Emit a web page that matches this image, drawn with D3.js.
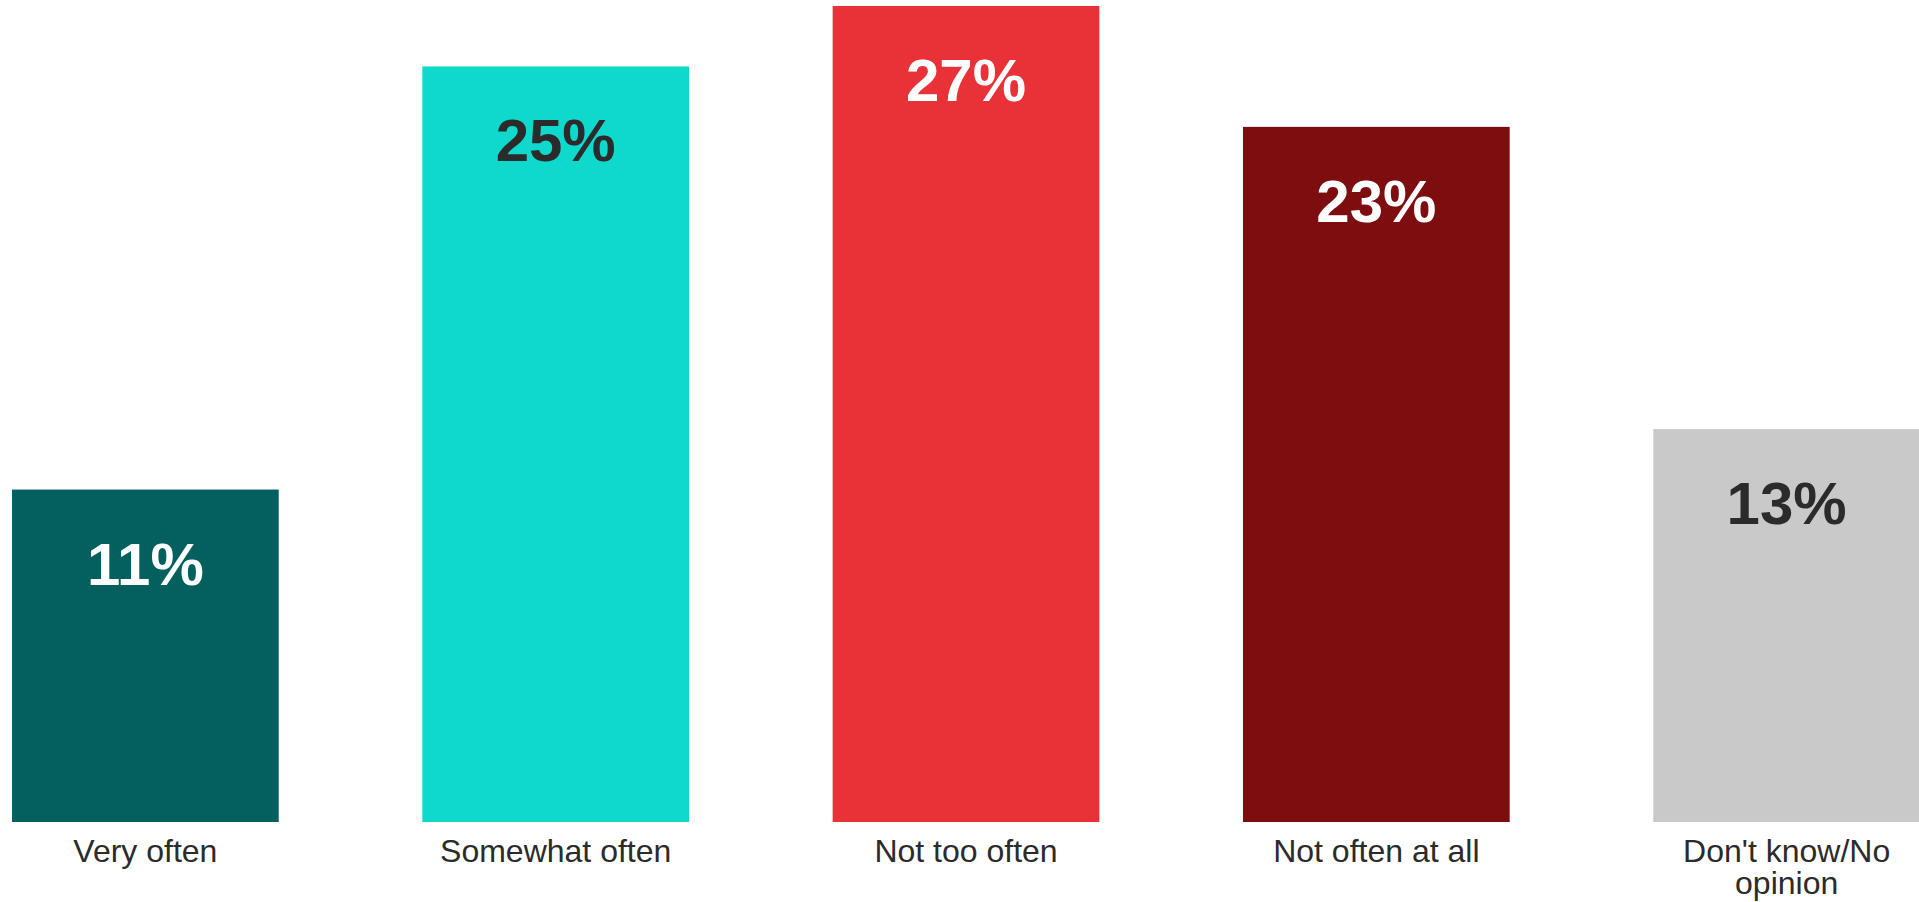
<!DOCTYPE html>
<html>
<head>
<meta charset="utf-8">
<script src="https://cdn.jsdelivr.net/npm/d3@7"></script>
<style>
    body { margin: 0; background: #fff; }
    svg { display: block; font-family: "Liberation Sans", Arial, sans-serif; }
</style>
</head>
<body>
<svg width="1919" height="902"></svg>
<script>
let categories = ["Very often", "Somewhat often", "Not too often", "Not often at all", "Don't know/No opinion"]
let values = [11, 25, 27, 23, 13]
let barColors = ["#03605f", "#0fd8cd", "#e83237", "#7d0d0f", "#c9c9c9"]
let labelColors = ["#ffffff", "#2b2b2b", "#ffffff", "#ffffff", "#2b2b2b"]

function main() {
    var svg = d3.select("svg")

    var x = d3.scaleBand()
        .domain(categories)
        .range([12, 1920])
        .paddingInner(0.35)
        .paddingOuter(0)

    var y = d3.scaleLinear()
        .domain([0, 27])
        .range([822, 6])

    var data = categories.map(function(c, i) {
        return {cat: c, value: values[i], i: i}
    })

    svg.selectAll('rect.bar')
        .data(data)
        .enter().append('rect')
        .attr('class', 'bar')
        .attr('x', d => x(d.cat))
        .attr('y', d => y(d.value))
        .attr('width', x.bandwidth())
        .attr('height', d => y(0) - y(d.value))
        .attr('fill', d => barColors[d.i])

    // value labels inside the bars
    svg.selectAll('text.value')
        .data(data)
        .enter().append('text')
        .attr('class', 'value')
        .attr('x', d => x(d.cat) + x.bandwidth() / 2)
        .attr('y', d => y(d.value) + 95)
        .attr('text-anchor', 'middle')
        .style('font-size', '60px')
        .style('font-weight', 'bold')
        .attr('fill', d => labelColors[d.i])
        .text(d => d.value + '%')

    // category axis, no line or ticks
    var axis = svg.append('g')
        .attr('transform', 'translate(0,' + y(0) + ')')
        .call(d3.axisBottom(x).tickSize(0).tickPadding(0))
    axis.select('.domain').remove()
    axis.selectAll('text')
        .attr('y', 40)
        .attr('dy', 0)
        .style('font-family', '"Liberation Sans", Arial, sans-serif')
        .style('font-size', '32px')
        .attr('fill', '#2b2b2b')
        .call(wrap, x.bandwidth())
}

function wrap(texts, w) {
    texts.each(function() {
        var text = d3.select(this),
            words = text.text().split(/\s+/),
            line = [],
            lineNo = 0,
            yy = text.attr('y'),
            tspan = text.text(null).append('tspan').attr('x', 0).attr('y', yy)
        for (var k = 0; k < words.length; k++) {
            line.push(words[k])
            tspan.text(line.join(' '))
            if (tspan.node().getComputedTextLength() > w && line.length > 1) {
                line.pop()
                tspan.text(line.join(' '))
                line = [words[k]]
                lineNo++
                tspan = text.append('tspan').attr('x', 0).attr('y', +yy + lineNo * 32).text(words[k])
            }
        }
    })
}

main()
</script>
</body>
</html>
